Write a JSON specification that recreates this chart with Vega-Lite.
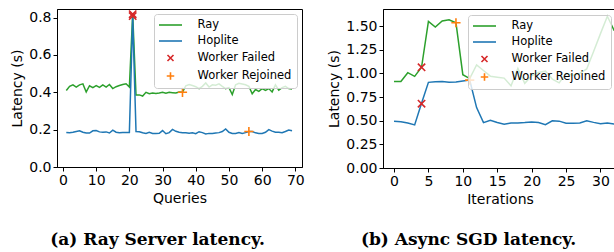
{
  "$schema": "https://vega.github.io/schema/vega-lite/v6.json",
  "padding": {"left": 10, "top": 6, "right": 0, "bottom": 0},
  "datasets": {
    "a_lines": [
      {"s":"Ray","x":1,"y":0.410},{"s":"Ray","x":2,"y":0.432},{"s":"Ray","x":3,"y":0.440},{"s":"Ray","x":4,"y":0.428},{"s":"Ray","x":5,"y":0.440},{"s":"Ray","x":6,"y":0.445},{"s":"Ray","x":7,"y":0.402},{"s":"Ray","x":8,"y":0.435},{"s":"Ray","x":9,"y":0.425},{"s":"Ray","x":10,"y":0.436},
      {"s":"Ray","x":11,"y":0.426},{"s":"Ray","x":12,"y":0.440},{"s":"Ray","x":13,"y":0.428},{"s":"Ray","x":14,"y":0.442},{"s":"Ray","x":15,"y":0.420},{"s":"Ray","x":16,"y":0.430},{"s":"Ray","x":17,"y":0.436},{"s":"Ray","x":18,"y":0.442},{"s":"Ray","x":19,"y":0.446},{"s":"Ray","x":20,"y":0.428},
      {"s":"Ray","x":21,"y":0.820},{"s":"Ray","x":22,"y":0.386},{"s":"Ray","x":23,"y":0.386},{"s":"Ray","x":24,"y":0.380},{"s":"Ray","x":25,"y":0.400},{"s":"Ray","x":26,"y":0.392},{"s":"Ray","x":27,"y":0.396},{"s":"Ray","x":28,"y":0.394},{"s":"Ray","x":29,"y":0.396},{"s":"Ray","x":30,"y":0.400},
      {"s":"Ray","x":31,"y":0.395},{"s":"Ray","x":32,"y":0.400},{"s":"Ray","x":33,"y":0.398},{"s":"Ray","x":34,"y":0.396},{"s":"Ray","x":35,"y":0.402},{"s":"Ray","x":36,"y":0.400},{"s":"Ray","x":37,"y":0.435},{"s":"Ray","x":38,"y":0.442},{"s":"Ray","x":39,"y":0.436},{"s":"Ray","x":40,"y":0.430},
      {"s":"Ray","x":41,"y":0.420},{"s":"Ray","x":42,"y":0.432},{"s":"Ray","x":43,"y":0.450},{"s":"Ray","x":44,"y":0.428},{"s":"Ray","x":45,"y":0.440},{"s":"Ray","x":46,"y":0.438},{"s":"Ray","x":47,"y":0.445},{"s":"Ray","x":48,"y":0.432},{"s":"Ray","x":49,"y":0.420},{"s":"Ray","x":50,"y":0.425},
      {"s":"Ray","x":51,"y":0.388},{"s":"Ray","x":52,"y":0.440},{"s":"Ray","x":53,"y":0.448},{"s":"Ray","x":54,"y":0.444},{"s":"Ray","x":55,"y":0.440},{"s":"Ray","x":56,"y":0.432},{"s":"Ray","x":57,"y":0.392},{"s":"Ray","x":58,"y":0.415},{"s":"Ray","x":59,"y":0.405},{"s":"Ray","x":60,"y":0.420},
      {"s":"Ray","x":61,"y":0.410},{"s":"Ray","x":62,"y":0.420},{"s":"Ray","x":63,"y":0.402},{"s":"Ray","x":64,"y":0.440},{"s":"Ray","x":65,"y":0.412},{"s":"Ray","x":66,"y":0.425},{"s":"Ray","x":67,"y":0.432},{"s":"Ray","x":68,"y":0.420},{"s":"Ray","x":69,"y":0.418},
      {"s":"Hoplite","x":1,"y":0.185},{"s":"Hoplite","x":2,"y":0.183},{"s":"Hoplite","x":3,"y":0.186},{"s":"Hoplite","x":4,"y":0.190},{"s":"Hoplite","x":5,"y":0.194},{"s":"Hoplite","x":6,"y":0.186},{"s":"Hoplite","x":7,"y":0.182},{"s":"Hoplite","x":8,"y":0.182},{"s":"Hoplite","x":9,"y":0.194},{"s":"Hoplite","x":10,"y":0.195},
      {"s":"Hoplite","x":11,"y":0.188},{"s":"Hoplite","x":12,"y":0.186},{"s":"Hoplite","x":13,"y":0.188},{"s":"Hoplite","x":14,"y":0.182},{"s":"Hoplite","x":15,"y":0.197},{"s":"Hoplite","x":16,"y":0.186},{"s":"Hoplite","x":17,"y":0.184},{"s":"Hoplite","x":18,"y":0.185},{"s":"Hoplite","x":19,"y":0.185},{"s":"Hoplite","x":20,"y":0.185},
      {"s":"Hoplite","x":21,"y":0.800},{"s":"Hoplite","x":22,"y":0.190},{"s":"Hoplite","x":23,"y":0.189},{"s":"Hoplite","x":24,"y":0.183},{"s":"Hoplite","x":25,"y":0.180},{"s":"Hoplite","x":26,"y":0.186},{"s":"Hoplite","x":27,"y":0.180},{"s":"Hoplite","x":28,"y":0.179},{"s":"Hoplite","x":29,"y":0.180},{"s":"Hoplite","x":30,"y":0.195},
      {"s":"Hoplite","x":31,"y":0.178},{"s":"Hoplite","x":32,"y":0.184},{"s":"Hoplite","x":33,"y":0.201},{"s":"Hoplite","x":34,"y":0.191},{"s":"Hoplite","x":35,"y":0.186},{"s":"Hoplite","x":36,"y":0.183},{"s":"Hoplite","x":37,"y":0.184},{"s":"Hoplite","x":38,"y":0.181},{"s":"Hoplite","x":39,"y":0.183},{"s":"Hoplite","x":40,"y":0.178},
      {"s":"Hoplite","x":41,"y":0.189},{"s":"Hoplite","x":42,"y":0.184},{"s":"Hoplite","x":43,"y":0.177},{"s":"Hoplite","x":44,"y":0.180},{"s":"Hoplite","x":45,"y":0.180},{"s":"Hoplite","x":46,"y":0.182},{"s":"Hoplite","x":47,"y":0.184},{"s":"Hoplite","x":48,"y":0.190},{"s":"Hoplite","x":49,"y":0.204},{"s":"Hoplite","x":50,"y":0.186},
      {"s":"Hoplite","x":51,"y":0.180},{"s":"Hoplite","x":52,"y":0.180},{"s":"Hoplite","x":53,"y":0.184},{"s":"Hoplite","x":54,"y":0.180},{"s":"Hoplite","x":55,"y":0.184},{"s":"Hoplite","x":56,"y":0.190},{"s":"Hoplite","x":57,"y":0.190},{"s":"Hoplite","x":58,"y":0.183},{"s":"Hoplite","x":59,"y":0.180},{"s":"Hoplite","x":60,"y":0.180},
      {"s":"Hoplite","x":61,"y":0.186},{"s":"Hoplite","x":62,"y":0.200},{"s":"Hoplite","x":63,"y":0.192},{"s":"Hoplite","x":64,"y":0.186},{"s":"Hoplite","x":65,"y":0.186},{"s":"Hoplite","x":66,"y":0.184},{"s":"Hoplite","x":67,"y":0.190},{"s":"Hoplite","x":68,"y":0.198},{"s":"Hoplite","x":69,"y":0.194}
    ],
    "a_marks": [
      {"s":"Worker Failed","x":21,"y":0.818},{"s":"Worker Failed","x":21,"y":0.808},
      {"s":"Worker Rejoined","x":36,"y":0.400},{"s":"Worker Rejoined","x":56,"y":0.190}
    ],
    "b_lines": [
      {"s":"Ray","x":0,"y":0.915},{"s":"Ray","x":1,"y":0.915},{"s":"Ray","x":2,"y":1.007},{"s":"Ray","x":3,"y":0.968},{"s":"Ray","x":4,"y":1.064},{"s":"Ray","x":5,"y":1.550},{"s":"Ray","x":6,"y":1.490},{"s":"Ray","x":7,"y":1.553},{"s":"Ray","x":8,"y":1.567},{"s":"Ray","x":9,"y":1.535},
      {"s":"Ray","x":10,"y":0.986},{"s":"Ray","x":11,"y":0.945},{"s":"Ray","x":12,"y":1.089},{"s":"Ray","x":13,"y":1.030},{"s":"Ray","x":14,"y":0.970},{"s":"Ray","x":15,"y":0.960},{"s":"Ray","x":16,"y":0.950},{"s":"Ray","x":17,"y":0.869},{"s":"Ray","x":18,"y":1.053},{"s":"Ray","x":19,"y":0.895},
      {"s":"Ray","x":20,"y":0.975},{"s":"Ray","x":21,"y":1.010},{"s":"Ray","x":22,"y":1.025},{"s":"Ray","x":23,"y":0.940},{"s":"Ray","x":24,"y":0.900},{"s":"Ray","x":25,"y":1.000},{"s":"Ray","x":26,"y":0.980},{"s":"Ray","x":27,"y":1.000},{"s":"Ray","x":28,"y":1.046},{"s":"Ray","x":29,"y":1.230},
      {"s":"Ray","x":30,"y":1.420},{"s":"Ray","x":31,"y":1.603},{"s":"Ray","x":32,"y":1.450},
      {"s":"Hoplite","x":0,"y":0.495},{"s":"Hoplite","x":1,"y":0.488},{"s":"Hoplite","x":2,"y":0.475},{"s":"Hoplite","x":3,"y":0.455},{"s":"Hoplite","x":4,"y":0.684},{"s":"Hoplite","x":5,"y":0.905},{"s":"Hoplite","x":6,"y":0.912},{"s":"Hoplite","x":7,"y":0.915},{"s":"Hoplite","x":8,"y":0.905},{"s":"Hoplite","x":9,"y":0.908},
      {"s":"Hoplite","x":10,"y":0.918},{"s":"Hoplite","x":11,"y":0.929},{"s":"Hoplite","x":12,"y":0.638},{"s":"Hoplite","x":13,"y":0.479},{"s":"Hoplite","x":14,"y":0.505},{"s":"Hoplite","x":15,"y":0.480},{"s":"Hoplite","x":16,"y":0.462},{"s":"Hoplite","x":17,"y":0.475},{"s":"Hoplite","x":18,"y":0.475},{"s":"Hoplite","x":19,"y":0.480},
      {"s":"Hoplite","x":20,"y":0.487},{"s":"Hoplite","x":21,"y":0.480},{"s":"Hoplite","x":22,"y":0.458},{"s":"Hoplite","x":23,"y":0.498},{"s":"Hoplite","x":24,"y":0.495},{"s":"Hoplite","x":25,"y":0.474},{"s":"Hoplite","x":26,"y":0.474},{"s":"Hoplite","x":27,"y":0.476},{"s":"Hoplite","x":28,"y":0.498},{"s":"Hoplite","x":29,"y":0.482},
      {"s":"Hoplite","x":30,"y":0.468},{"s":"Hoplite","x":31,"y":0.476},{"s":"Hoplite","x":32,"y":0.465}
    ],
    "b_marks": [
      {"s":"Worker Failed","x":4,"y":1.064},{"s":"Worker Failed","x":4,"y":0.680},
      {"s":"Worker Rejoined","x":9,"y":1.535},{"s":"Worker Rejoined","x":11,"y":0.929}
    ]
  },
  "hconcat": [
    {
      "width": 245,
      "height": 158,
      "title": {"text": "(a) Ray Server latency.", "orient": "bottom", "anchor": "middle", "frame": "bounds", "offset": 27, "dx": 0},
      "encoding": {
        "x": {"field": "x", "type": "quantitative", "title": "Queries", "scale": {"domain": [-1.8, 72], "nice": false, "zero": false}, "axis": {"values": [0,10,20,30,40,50,60,70], "format": "d", "labelOverlap": false}},
        "y": {"field": "y", "type": "quantitative", "title": "Latency (s)", "scale": {"domain": [0, 0.846], "nice": false}, "axis": {"values": [0,0.2,0.4,0.6,0.8], "format": ".1f", "labelOverlap": false}},
        "color": {"field": "s", "type": "nominal", "scale": {"domain": ["Ray","Hoplite","Worker Failed","Worker Rejoined"], "range": ["#2ca02c","#1f77b4","#d62728","#ff7f0e"]}, "legend": {"title": null, "offset": 5}}
      },
      "layer": [
        {
          "data": {"name": "a_lines"},
          "mark": {"type": "line", "strokeWidth": 1.5}
        },
        {
          "data": {"name": "a_marks"},
          "mark": {"type": "point", "filled": false, "strokeWidth": 1.6, "size": 150, "opacity": 1},
          "encoding": {
            "shape": {"field": "s", "type": "nominal", "scale": {"domain": ["Ray","Hoplite","Worker Failed","Worker Rejoined"], "range": ["M-2.3,0L2.3,0","M-2.3,0L2.3,0","M-0.6,-0.6L0.6,0.6M-0.6,0.6L0.6,-0.6","M-0.75,0L0.75,0M0,-0.75L0,0.75"]}, "legend": {"title": null, "offset": 5}}
          }
        }
      ]
    },
    {
      "width": 234,
      "height": 159,
      "title": {"text": "(b) Async SGD latency.", "orient": "bottom", "anchor": "middle", "frame": "bounds", "offset": 26, "dx": -4},
      "encoding": {
        "x": {"field": "x", "type": "quantitative", "title": "Iterations", "scale": {"domain": [-1.6, 32.4], "nice": false, "zero": false}, "axis": {"values": [0,5,10,15,20,25,30], "format": "d", "labelOverlap": false}},
        "y": {"field": "y", "type": "quantitative", "title": "Latency (s)", "scale": {"domain": [0, 1.68], "nice": false}, "axis": {"values": [0,0.25,0.5,0.75,1.0,1.25,1.5], "format": ".2f", "labelOverlap": false}},
        "color": {"field": "s", "type": "nominal", "scale": {"domain": ["Ray","Hoplite","Worker Failed","Worker Rejoined"], "range": ["#2ca02c","#1f77b4","#d62728","#ff7f0e"]}, "legend": {"title": null, "offset": 6}}
      },
      "layer": [
        {
          "data": {"name": "b_lines"},
          "mark": {"type": "line", "strokeWidth": 1.5}
        },
        {
          "data": {"name": "b_marks"},
          "mark": {"type": "point", "filled": false, "strokeWidth": 1.6, "size": 150, "opacity": 1},
          "encoding": {
            "shape": {"field": "s", "type": "nominal", "scale": {"domain": ["Ray","Hoplite","Worker Failed","Worker Rejoined"], "range": ["M-2.3,0L2.3,0","M-2.3,0L2.3,0","M-0.6,-0.6L0.6,0.6M-0.6,0.6L0.6,-0.6","M-0.75,0L0.75,0M0,-0.75L0,0.75"]}, "legend": {"title": null, "offset": 6}}
          }
        }
      ]
    }
  ],
  "resolve": {
    "scale": {"color": "independent", "shape": "independent"},
    "legend": {"color": "independent", "shape": "independent"}
  },
  "config": {
    "font": "DejaVu Sans",
    "view": {"stroke": "#000", "strokeWidth": 1},
    "concat": {"spacing": 22},
    "axis": {
      "grid": false,
      "labelFont": "DejaVu Sans", "labelFontSize": 14, "labelColor": "#000", "labelPadding": 2,
      "titleFont": "DejaVu Sans", "titleFontSize": 14, "titleFontWeight": "normal", "titleColor": "#000", "titlePadding": 4,
      "tickColor": "#000", "tickSize": 4, "domainColor": "#000", "labelFlush": false, "labelOverlap": false
    },
    "legend": {
      "orient": "top-right", "zindex": 1,
      "padding": 5, "fillColor": "rgba(255,255,255,0.8)", "strokeColor": "#cccccc", "cornerRadius": 3,
      "labelFont": "DejaVu Sans", "labelFontSize": 11.5, "labelColor": "#000", "labelOffset": 21,
      "symbolSize": 100, "symbolOffset": 5.5, "symbolStrokeWidth": 1.6, "rowPadding": 4
    },
    "title": {"font": "DejaVu Serif", "fontSize": 17, "fontWeight": "bold", "color": "#000"}
  }
}
